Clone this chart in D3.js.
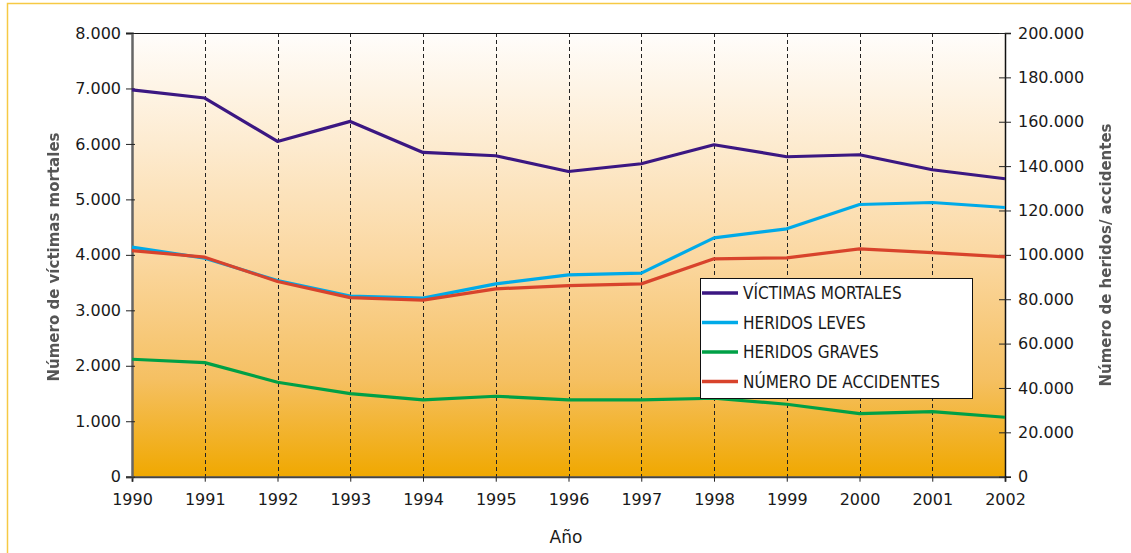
<!DOCTYPE html>
<html>
<head>
<meta charset="utf-8">
<script src="https://cdn.jsdelivr.net/npm/d3@7"></script>
<style>
  body { margin: 0; background: #fff; }
  svg text { font-family: "DejaVu Sans", sans-serif; fill: #1a1a1a; }
</style>
</head>
<body>
<div id="chart"></div>
<script>
//Data
var years = [1990, 1991, 1992, 1993, 1994, 1995, 1996, 1997, 1998, 1999, 2000, 2001, 2002];
var victimasMortales = [6975, 6828, 6045, 6406, 5846, 5787, 5503, 5642, 5985, 5769, 5805, 5534, 5372];
var heridosLeves = [103470, 98510, 88410, 81370, 80470, 86920, 90980, 91750, 107670, 111730, 122690, 123590, 121340];
var heridosGraves = [52950, 51420, 42580, 37440, 34600, 36270, 34600, 34600, 35360, 32660, 28420, 29320, 26790];
var numeroAccidentes = [101940, 98960, 87960, 80740, 79570, 84670, 86150, 86920, 98200, 98650, 102710, 101040, 99100];
var leftTicks = [0, 1000, 2000, 3000, 4000, 5000, 6000, 7000, 8000];
var rightTicks = [0, 20000, 40000, 60000, 80000, 100000, 120000, 140000, 160000, 180000, 200000];

var seriesList = [
  { name: "VÍCTIMAS MORTALES", values: victimasMortales, axis: "left", color: "#3b1782" },
  { name: "HERIDOS LEVES", values: heridosLeves, axis: "right", color: "#00aae8" },
  { name: "HERIDOS GRAVES", values: heridosGraves, axis: "right", color: "#00a046" },
  { name: "NÚMERO DE ACCIDENTES", values: numeroAccidentes, axis: "right", color: "#d8432c" }
];

//Width and height
var w = 1131;
var h = 553;
var plotLeft = 132, plotRight = 1005, plotTop = 33, plotBottom = 476.7;

//Spanish number format: 8.000
var es = d3.formatLocale({ decimal: ",", thousands: ".", grouping: [3], currency: ["", "€"] });
var fmt = es.format(",d");

var xScale = d3.scaleLinear().domain([1990, 2002]).range([plotLeft, plotRight]);
var yLeft = d3.scaleLinear().domain([0, 8000]).range([plotBottom, plotTop]);
var yRight = d3.scaleLinear().domain([0, 200000]).range([plotBottom, plotTop]);

var svg = d3.select("#chart").append("svg")
  .attr("width", w)
  .attr("height", h);

//Outer frame
svg.append("rect")
  .attr("x", 7.5).attr("y", 3.5)
  .attr("width", w).attr("height", h)
  .attr("fill", "none")
  .attr("stroke", "#f6c944")
  .attr("stroke-width", 1.5);

//Background gradient
var defs = svg.append("defs");
var grad = defs.append("linearGradient")
  .attr("id", "bg").attr("x1", 0).attr("y1", 0).attr("x2", 0).attr("y2", 1);
grad.append("stop").attr("offset", 0).attr("stop-color", "#fffdfb");
grad.append("stop").attr("offset", 0.25).attr("stop-color", "#fdebd0");
grad.append("stop").attr("offset", 0.5).attr("stop-color", "#fbd8a2");
grad.append("stop").attr("offset", 0.78).attr("stop-color", "#f5c062");
grad.append("stop").attr("offset", 1).attr("stop-color", "#f0a800");

//Soft blur for the axis titles
defs.append("filter").attr("id", "soft")
  .append("feGaussianBlur").attr("stdDeviation", 0.5);

svg.append("rect")
  .attr("x", plotLeft).attr("y", plotTop)
  .attr("width", plotRight - plotLeft).attr("height", plotBottom - plotTop)
  .attr("fill", "url(#bg)");

//Vertical dashed grid
svg.append("g")
  .selectAll("line")
  .data(years.slice(1, -1))
  .enter()
  .append("line")
  .attr("x1", function(d) { return Math.round(xScale(d)) + 0.5; })
  .attr("x2", function(d) { return Math.round(xScale(d)) + 0.5; })
  .attr("y1", plotTop).attr("y2", plotBottom)
  .attr("stroke", "#222")
  .attr("stroke-width", 1)
  .attr("stroke-dasharray", "4,3");

//Top border
svg.append("line")
  .attr("x1", plotLeft).attr("x2", plotRight)
  .attr("y1", plotTop + 0.5).attr("y2", plotTop + 0.5)
  .attr("stroke", "#111");

//Axes
var xAxis = d3.axisBottom(xScale).tickValues(years).tickFormat(d3.format("d")).tickSize(5).tickPadding(12);
var yAxisL = d3.axisLeft(yLeft).tickValues(leftTicks).tickFormat(fmt).tickSize(6).tickPadding(5);
var yAxisR = d3.axisRight(yRight).tickValues(rightTicks).tickFormat(fmt).tickSize(6).tickPadding(7);

var gx = svg.append("g").attr("transform", "translate(0," + plotBottom + ")").call(xAxis);
var gl = svg.append("g").attr("transform", "translate(" + plotLeft + ",0)").call(yAxisL);
var gr = svg.append("g").attr("transform", "translate(" + plotRight + ",0)").call(yAxisR);

[gx, gl, gr].forEach(function(g) {
  g.attr("font-family", null).attr("font-size", null);
  g.selectAll("text").style("font-size", "16px").attr("fill", "#1a1a1a");
  g.selectAll(".tick line").attr("stroke", "#222");
});
gx.select(".domain").attr("stroke", "#444").attr("stroke-width", 2);
gl.select(".domain").attr("stroke", "#666").attr("stroke-width", 2.5);
gr.select(".domain").attr("stroke", "#111").attr("stroke-width", 1.5);

//Ticks cross the value axes
gl.selectAll(".tick line").attr("x2", -6).attr("x1", 3);
gr.selectAll(".tick line").attr("x1", -6).attr("x2", 6);

//Lines
var line = function(scale) {
  return d3.line()
    .x(function(d, i) { return xScale(years[i]); })
    .y(function(d) { return scale(d); });
};

svg.append("g")
  .selectAll("path")
  .data(seriesList)
  .enter()
  .append("path")
  .attr("d", function(d) { return line(d.axis === "left" ? yLeft : yRight)(d.values); })
  .attr("fill", "none")
  .attr("stroke", function(d) { return d.color; })
  .attr("stroke-width", 3.2)
  .attr("stroke-linejoin", "round");

//Legend
var lg = svg.append("g").attr("transform", "translate(700,278)");
lg.append("rect")
  .attr("x", 0.5).attr("y", 0.5)
  .attr("width", 272).attr("height", 120)
  .attr("fill", "#fff")
  .attr("stroke", "#111");

var items = lg.selectAll("g.item")
  .data(seriesList)
  .enter()
  .append("g")
  .attr("class", "item")
  .attr("transform", function(d, i) { return "translate(0," + (15 + i * 29.5) + ")"; });

items.append("line")
  .attr("x1", 2).attr("x2", 38)
  .attr("stroke", function(d) { return d.color; })
  .attr("stroke-width", 3.5);

items.append("text")
  .attr("x", 43).attr("y", 6)
  .style("font-family", "'DejaVu Sans Condensed', 'DejaVu Sans', sans-serif")
  .style("font-size", "17px")
  .text(function(d) { return d.name; });

//Axis titles
svg.append("text")
  .attr("transform", "translate(59,257) rotate(-90)")
  .attr("text-anchor", "middle")
  .attr("filter", "url(#soft)")
  .style("font-size", "15px")
  .style("font-weight", "bold")
  .style("fill", "#555")
  .text("Número de víctimas mortales");

svg.append("text")
  .attr("transform", "translate(1111,255) rotate(-90)")
  .attr("text-anchor", "middle")
  .attr("filter", "url(#soft)")
  .style("font-size", "15px")
  .style("font-weight", "bold")
  .style("fill", "#555")
  .text("Número de heridos/ accidentes");

svg.append("text")
  .attr("x", 566).attr("y", 543)
  .attr("text-anchor", "middle")
  .style("font-size", "17px")
  .text("Año");
</script>
</body>
</html>
